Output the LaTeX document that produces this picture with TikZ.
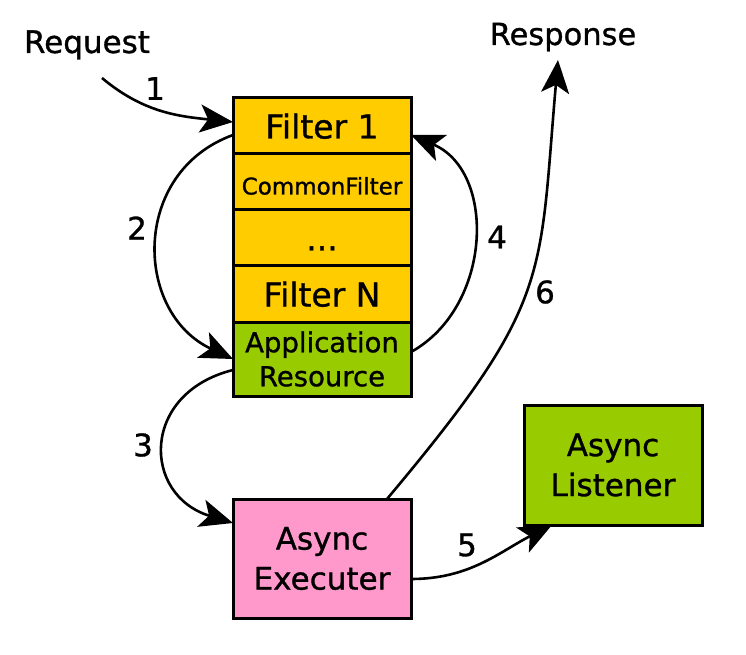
\documentclass[tikz,border=0pt]{standalone}
\usepackage{fontspec}
\setmainfont{DejaVu Sans}[FakeBold=1]
\usetikzlibrary{positioning,arrows.meta}
\definecolor{filteryellow}{HTML}{FFCC00}
\definecolor{appgreen}{HTML}{99CC00}
\definecolor{asyncpink}{HTML}{FF99CC}

\begin{document}
\begin{tikzpicture}[x=1pt, y=1pt,
    box/.style={draw, line width=3pt, outer sep=0pt, inner sep=0pt, minimum width=178pt, align=center},
    filter/.style={box, fill=filteryellow, minimum height=56pt, text height=25pt, text depth=0pt, font=\fontsize{33}{40}\selectfont},
    flow/.style={line width=2.6pt, -{Stealth[length=33pt, width=28pt, inset=8pt]}},
    num/.style={font=\fontsize{31}{38}\selectfont}]

    \useasboundingbox (0,0) rectangle (746,654);

    % filter chain
    \node [filter] (f1) at (322,528) {Filter 1};
    \node [filter, below=0pt of f1, font=\fontsize{23}{28}\selectfont] (common) {CommonFilter};
    \node [filter, below=0pt of common] (dots) {...};
    \node [filter, below=0pt of dots] (fn) {Filter N};
    \node [box, fill=appgreen, below=0pt of fn, minimum height=74pt, font=\fontsize{27.5}{34}\selectfont] (app) {Application\\Resource};

    \node [box, fill=asyncpink, minimum height=119pt, font=\fontsize{31}{40}\selectfont] (executer) at (322,95.5) {Async\\Executer};
    \node [box, fill=appgreen, minimum height=120pt, font=\fontsize{31}{40}\selectfont] (listener) at (613,189) {Async\\Listener};

    \node [anchor=base, font=\fontsize{31}{38}\selectfont] (request) at (87,601) {Request};
    \node [anchor=base, font=\fontsize{30.5}{37}\selectfont] (response) at (563,609) {Response};
    \coordinate (reqend) at (102,576);
    \coordinate (respend) at (558,594);

    % steps
    \draw [flow] (reqend) to [out=-40, in=174] ([yshift=4pt]f1.west);
    \draw [flow] ([yshift=-9pt]f1.west) to [out=200, in=155, looseness=1.25] (app.west);
    \draw [flow] ([yshift=-11pt]app.west) to [out=194, in=163, looseness=1.6] ([yshift=35.5pt]executer.west);
    \draw [flow] ([yshift=7pt]app.east) to [out=29, in=-23, looseness=1.1] ([yshift=-9pt]f1.east);
    \draw [flow] ([yshift=-20.5pt]executer.east) to [out=0, in=-153] ([xshift=28pt]listener.south west);
    \draw [flow] ([xshift=65pt]executer.north) to [out=50, in=-95, out looseness=1.4, in looseness=1.2] (respend);

    \node [num] (n1) at (155,565.5) {1};
    \node [num] (n2) at (137,426) {2};
    \node [num] (n3) at (143,209) {3};
    \node [num] (n4) at (497,417) {4};
    \node [num] (n5) at (467,109) {5};
    \node [num] (n6) at (545,362) {6};

\end{tikzpicture}
\end{document}
